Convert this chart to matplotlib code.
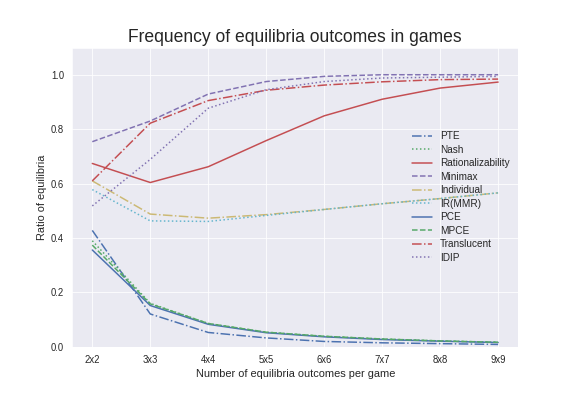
import numpy as np
import matplotlib
matplotlib.use('Agg')
import matplotlib.pyplot as plt
import seaborn as sns

sizes = ['2x2', '3x3', '4x4', '5x5', '6x6', '7x7', '8x8', '9x9']

#ratios
pte = [0.428, 0.121, 0.053, 0.033, 0.020, 0.015, 0.012, 0.009]
nash = [0.390, 0.160, 0.086, 0.054, 0.039, 0.029, 0.022, 0.017]
rational = [0.674, 0.604, 0.662, 0.758, 0.849, 0.910, 0.951, 0.973]
minimax = [0.754, 0.830, 0.929, 0.975, 0.994, 1.000, 1.000, 1.000]
individual = [0.610, 0.488, 0.473, 0.486, 0.505, 0.526, 0.545, 0.566]
ir_mmr = [0.578, 0.463, 0.461, 0.483, 0.505, 0.526, 0.545, 0.566]
pce = [0.356, 0.152, 0.083, 0.052, 0.037, 0.027, 0.021, 0.016]
mpce = [0.374, 0.158, 0.086, 0.054, 0.039, 0.029, 0.022, 0.017]
translucent = [0.610, 0.822, 0.905, 0.943, 0.962, 0.974, 0.982, 0.984]
idip = [0.518, 0.689, 0.877, 0.945, 0.975, 0.988, 0.991, 0.994]

names = ['PTE', 'Nash', 'Rationalizability', 'Minimax', 'Individual',
         'IR(MMR)', 'PCE', 'MPCE', 'Translucent', 'IDIP']
series = [pte, nash, rational, minimax, individual, ir_mmr, pce, mpce, translucent, idip]

sns.set_style('darkgrid')
plt.rcParams['font.family'] = ['Liberation Sans', 'DejaVu Sans']
plt.rcParams['text.color'] = '.15'
plt.rcParams['axes.labelcolor'] = '.15'
plt.rcParams['xtick.color'] = '.15'
plt.rcParams['ytick.color'] = '.15'

#old seaborn "deep" palette
deep = ['#4C72B0', '#55A868', '#C44E52', '#8172B2', '#CCB974', '#64B5CD']
styles = ['-.', ':', '-', '--']

fig = plt.figure(figsize=(8, 5.5), dpi=72)
ax = fig.add_subplot(111)
fig.subplots_adjust(left=0.125, right=0.9, top=0.88, bottom=0.124)

x = np.arange(len(sizes))
for i in range(len(series)):
    ax.plot(x, series[i], linestyle=styles[i % 4], color=deep[i % 6],
            linewidth=1.5, label=names[i])

ax.set_xticks(x)
ax.set_xticklabels(sizes)
ax.set_ylim(0, 1.1)
ax.set_yticks([0.0, 0.2, 0.4, 0.6, 0.8, 1.0])
ax.tick_params(labelsize=9.5, length=0, pad=8)
ax.set_xlabel('Number of equilibria outcomes per game', fontsize=11)
ax.set_ylabel('Ratio of equilibria', fontsize=11)
ax.set_title('Frequency of equilibria outcomes in games', fontsize=17.5)
ax.legend(loc='center right', frameon=False, fontsize=10, labelspacing=0.35)

fig.savefig('out.png', dpi=72)
